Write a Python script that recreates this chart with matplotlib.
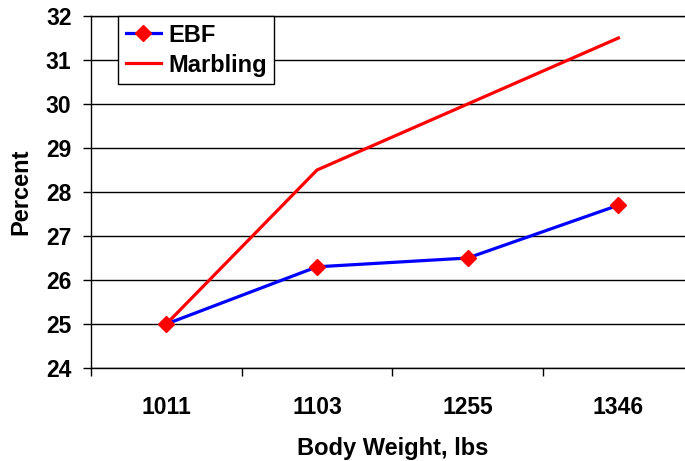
import matplotlib
matplotlib.use("Agg")
import matplotlib.pyplot as plt
from matplotlib.ticker import FixedLocator, NullFormatter, FixedFormatter

plt.rcParams['font.family'] = ['Liberation Sans', 'DejaVu Sans']
plt.rcParams['font.weight'] = 'bold'

categories = ["1011", "1103", "1255", "1346"]
ebf = [25.0, 26.3, 26.5, 27.7]
marbling = [25.0, 28.5, 30.0, 31.5]

FS = 16.5
FS_LABEL = 17

fig = plt.figure(figsize=(6.85, 4.61), dpi=100)
ax = fig.add_axes([0.1328, 0.2017, 0.880, 0.7636])

x = list(range(len(categories)))
ax.plot(x, marbling, color='#ff0000', lw=2.3, label='Marbling', zorder=3)
ax.plot(x, ebf, color='#0000ff', lw=2.3, marker='D', markersize=8,
        markerfacecolor='#ff0000', markeredgecolor='#ff0000', label='EBF', zorder=4)

ax.set_xlim(-0.5, len(categories) - 0.5)
ax.set_ylim(24, 32)
ax.set_yticks(range(24, 33))
ax.tick_params(axis='y', direction='out', length=6, width=1, pad=8, labelsize=FS)

ax.xaxis.set_major_locator(FixedLocator([i - 0.5 for i in range(len(categories) + 1)]))
ax.xaxis.set_major_formatter(NullFormatter())
ax.xaxis.set_minor_locator(FixedLocator(x))
ax.xaxis.set_minor_formatter(FixedFormatter(categories))
ax.tick_params(axis='x', which='major', direction='out', length=6, width=1)
ax.tick_params(axis='x', which='minor', length=0, pad=20, labelsize=FS)

ax.yaxis.grid(True, color='black', lw=1)
ax.set_axisbelow(True)
for s in ['left', 'bottom', 'top']:
    ax.spines[s].set_color('black')
    ax.spines[s].set_linewidth(1)
ax.spines['right'].set_visible(False)

ax.set_xlabel('Body Weight, lbs', fontsize=FS_LABEL, fontweight='bold', labelpad=13)
ax.set_ylabel('Percent', fontsize=FS_LABEL, fontweight='bold', labelpad=10)

handles, labels = ax.get_legend_handles_labels()
leg = ax.legend(handles[::-1], labels[::-1], loc='upper left',
                bbox_to_anchor=(0.0448, 1.0), borderaxespad=0,
                fancybox=False, framealpha=1, edgecolor='black',
                prop={'size': FS_LABEL, 'weight': 'bold'}, handlelength=1.5,
                handletextpad=0.3, labelspacing=0.3, borderpad=0.32)
leg.get_frame().set_linewidth(1)

fig.savefig('out.png', dpi=100)
